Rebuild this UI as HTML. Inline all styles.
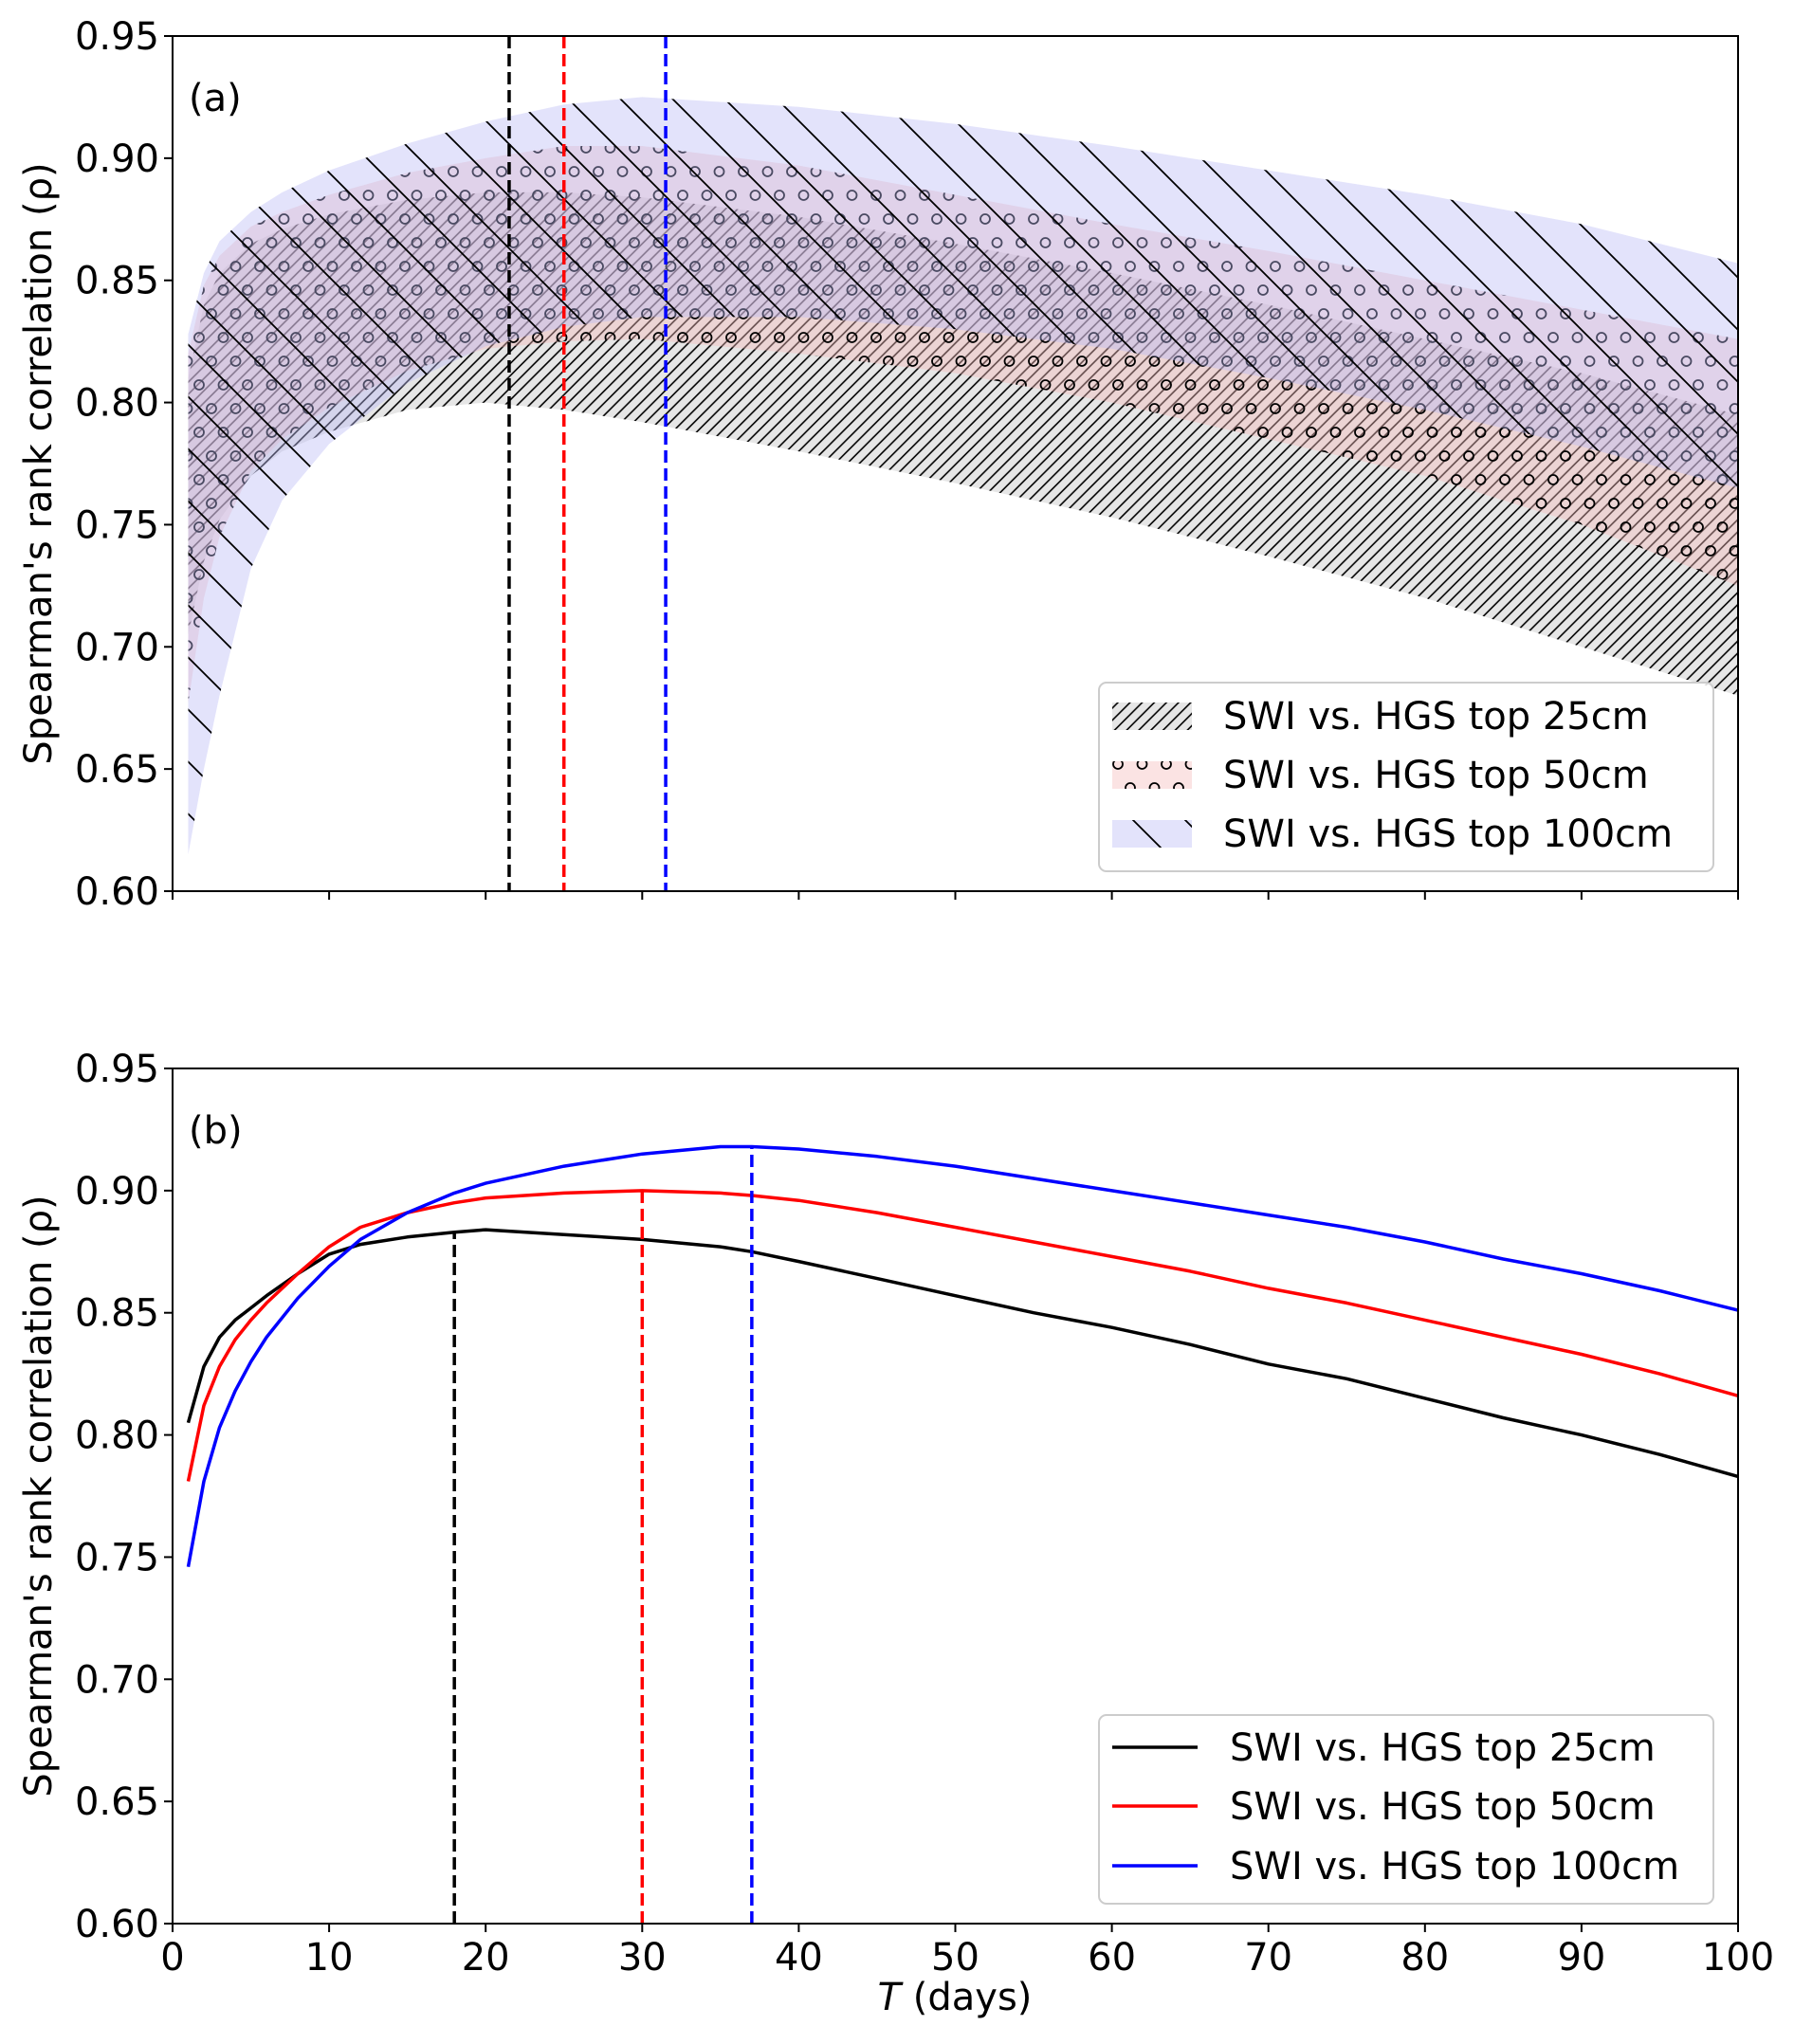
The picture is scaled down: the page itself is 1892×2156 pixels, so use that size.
<!DOCTYPE html>
<html><head><meta charset="utf-8">
<style>
html,body{margin:0;padding:0;background:#fff;}
svg{display:block;font-family:"DejaVu Sans","Liberation Sans",sans-serif;}
</style></head>
<body>
<svg id="chart" width="1892" height="2156" viewBox="0 0 1892 2156" xmlns="http://www.w3.org/2000/svg">
<defs>
  <pattern id="hatchSlash" patternUnits="userSpaceOnUse" width="12.8" height="12.8">
    <path d="M-3.2,3.2 L3.2,-3.2 M0,12.8 L12.8,0 M9.6,16 L16,9.6" stroke="#000" stroke-width="1.6"/>
  </pattern>
  <pattern id="hatchCircle" patternUnits="userSpaceOnUse" width="51" height="50">
    <circle cx="6" cy="6" r="5" fill="none" stroke="#000" stroke-width="1.8"/>
    <circle cx="31.5" cy="6" r="5" fill="none" stroke="#000" stroke-width="1.8"/>
    <circle cx="19" cy="31" r="5" fill="none" stroke="#000" stroke-width="1.8"/>
    <circle cx="44.5" cy="31" r="5" fill="none" stroke="#000" stroke-width="1.8"/>
  </pattern>
  <pattern id="hatchBack" patternUnits="userSpaceOnUse" width="55" height="55">
    <path d="M-5,-5 L60,60 M-5,50 L5,60 M50,-5 L60,5" stroke="#000" stroke-width="1.8"/>
  </pattern>
  <clipPath id="clipA"><rect x="182" y="38" width="1651" height="902"/></clipPath>
  <clipPath id="clipB"><rect x="182" y="1127" width="1651" height="902"/></clipPath>
</defs>
<g id="panelA"></g>
<g id="panelB"></g>
</svg>
<script>
// ---- data ----
const bandT = [1,2,3,5,7,10,15,20,25,30,40,50,60,70,80,90,100];
const band25Upper  = [0.81,0.84,0.853,0.865,0.871,0.877,0.883,0.886,0.886,0.884,0.876,0.865,0.853,0.84,0.826,0.812,0.795];
const band25Lower  = [0.705,0.735,0.752,0.77,0.78,0.788,0.797,0.80,0.797,0.792,0.78,0.767,0.753,0.737,0.72,0.70,0.68];
const band50Upper  = [0.82,0.848,0.86,0.872,0.878,0.885,0.894,0.90,0.905,0.905,0.897,0.885,0.873,0.862,0.85,0.838,0.826];
const band50Lower  = [0.677,0.72,0.745,0.772,0.785,0.798,0.813,0.822,0.825,0.826,0.82,0.812,0.80,0.785,0.77,0.75,0.725];
const band100Upper = [0.828,0.853,0.866,0.878,0.886,0.895,0.906,0.915,0.922,0.925,0.921,0.914,0.905,0.895,0.885,0.873,0.857];
const band100Lower = [0.615,0.65,0.68,0.732,0.76,0.783,0.808,0.823,0.831,0.835,0.835,0.83,0.822,0.81,0.797,0.782,0.765];
const optimalA = [21.5, 25, 31.5];

const lineT = [1,2,3,4,5,6,8,10,12,15,18,20,25,30,35,37,40,45,50,55,60,65,70,75,80,85,90,95,100];
const line25  = [0.805,0.828,0.840,0.847,0.852,0.857,0.866,0.874,0.878,0.881,0.883,0.884,0.882,0.880,0.877,0.875,0.871,0.864,0.857,0.850,0.844,0.837,0.829,0.823,0.815,0.807,0.800,0.792,0.783];
const line50  = [0.781,0.812,0.828,0.839,0.847,0.854,0.866,0.877,0.885,0.891,0.895,0.897,0.899,0.900,0.899,0.898,0.896,0.891,0.885,0.879,0.873,0.867,0.860,0.854,0.847,0.840,0.833,0.825,0.816];
const line100 = [0.746,0.781,0.803,0.818,0.830,0.840,0.856,0.869,0.880,0.891,0.899,0.903,0.910,0.915,0.918,0.918,0.917,0.914,0.910,0.905,0.900,0.895,0.890,0.885,0.879,0.872,0.866,0.859,0.851];
const optimalB = [18, 30, 37];

const xTicks = [0,10,20,30,40,50,60,70,80,90,100];
const yTicks = [0.60,0.65,0.70,0.75,0.80,0.85,0.90,0.95];
const legendLabels = ["SWI vs. HGS top 25cm","SWI vs. HGS top 50cm","SWI vs. HGS top 100cm"];

// ---- layout ----
const NS = "http://www.w3.org/2000/svg";
const X0 = 182, X1 = 1833;
function xs(t){ return X0 + (t-0)/(100-0)*(X1-X0); }
function mkY(top,bot){ return v => bot - (v-0.60)/(0.95-0.60)*(bot-top); }
function el(tag, attrs, parent){
  const e = document.createElementNS(NS, tag);
  for (const k in attrs) e.setAttribute(k, attrs[k]);
  parent.appendChild(e); return e;
}
function bandPath(T, up, lo, ys){
  let d = "";
  T.forEach((t,i)=>{ d += (i?"L":"M") + xs(t).toFixed(1) + "," + ys(up[i]).toFixed(1); });
  for (let i=T.length-1;i>=0;i--) d += "L" + xs(T[i]).toFixed(1) + "," + ys(lo[i]).toFixed(1);
  return d + "Z";
}
function linePath(T, v, ys){
  return T.map((t,i)=>(i?"L":"M")+xs(t).toFixed(1)+","+ys(v[i]).toFixed(1)).join("");
}
function interp(T, v, t){
  for (let i=0;i<T.length-1;i++) if (t>=T[i] && t<=T[i+1]) return v[i]+(v[i+1]-v[i])*(t-T[i])/(T[i+1]-T[i]);
  return v[v.length-1];
}
function axes(g, top, bot, showXLabels, panelLetter){
  const ys = mkY(top,bot);
  let e;
  e = el("rect",{x:X0,y:top,width:X1-X0,height:bot-top,fill:"none",stroke:"#000","stroke-width":2},g);
   
  xTicks.forEach(t=>{
    const tk = el("line",{x1:xs(t),x2:xs(t),y1:bot,y2:bot+9,stroke:"#000","stroke-width":2},g);
     
    if (showXLabels){
      const tx = el("text",{x:xs(t),y:bot+49,"font-size":40,"text-anchor":"middle",fill:"#000"},g);
      tx.textContent = String(t);
       
    }
  });
  yTicks.forEach(v=>{
    const tk = el("line",{x1:X0-9,x2:X0,y1:ys(v),y2:ys(v),stroke:"#000","stroke-width":2},g);
     
    const tx = el("text",{x:X0-14,y:ys(v)+14,"font-size":40,"text-anchor":"end",fill:"#000"},g);
    tx.textContent = v.toFixed(2);
     
  });
  const yl = el("text",{x:0,y:0,"font-size":40,"text-anchor":"middle",fill:"#000",transform:`translate(54,${(top+bot)/2}) rotate(-90)`},g);
  yl.textContent = "Spearman's rank correlation (ρ)";
   
  const pl = el("text",{x:199,y:top+79,"font-size":40,fill:"#000"},g);
  pl.textContent = panelLetter;
   
}
function legendBox(g, top){
  const r = el("rect",{x:1159,y:top,width:648,height:199,rx:8,fill:"#fff","fill-opacity":0.85,stroke:"#ccc","stroke-width":2},g);
   
}

// ---- panel A ----
(function(){
  const g = document.getElementById("panelA");
  const top=38, bot=940, ys=mkY(top,bot);
  const cg = el("g",{"clip-path":"url(#clipA)"},g);
  const bands = [
    [band25Upper,band25Lower,"#d6d6d6",0.6,"url(#hatchSlash)","band-25cm"],
    [band50Upper,band50Lower,"#f4b8b8",0.4,"url(#hatchCircle)","band-50cm"],
    [band100Upper,band100Lower,"#b8b8f4",0.4,"url(#hatchBack)","band-100cm"]
  ];
  bands.forEach(b=>{
    const d = bandPath(bandT,b[0],b[1],ys);
    const f = el("path",{d:d,fill:b[2],"fill-opacity":b[3]},cg);
     
    const h = el("path",{d:d,fill:b[4]},cg);
     
  });
  const cols = ["#000","#f00","#00f"];
  optimalA.forEach((t,i)=>{
    const l = el("line",{x1:xs(t),x2:xs(t),y1:top,y2:bot,stroke:cols[i],"stroke-width":3.5,"stroke-dasharray":"13,6"},g);
     
  });
  axes(g,top,bot,false,"(a)");
  legendBox(g,720);
  const rows=[755,817,879];
  const sw = [["#d6d6d6",0.6,"url(#hatchSlash)"],["#f4b8b8",0.4,"url(#hatchCircle)"],["#b8b8f4",0.4,"url(#hatchBack)"]];
  rows.forEach((y,i)=>{
    const a = el("rect",{x:1173,y:y-14,width:84,height:29,fill:sw[i][0],"fill-opacity":sw[i][1]},g);
     
    const b = el("rect",{x:1173,y:y-14,width:84,height:29,fill:sw[i][2]},g);
     
    const tx = el("text",{x:1290,y:y+14,"font-size":40,fill:"#000"},g);
    tx.textContent = legendLabels[i];
     
  });
})();

// ---- panel B ----
(function(){
  const g = document.getElementById("panelB");
  const top=1127, bot=2029, ys=mkY(top,bot);
  const cg = el("g",{"clip-path":"url(#clipB)"},g);
  const series = [[line25,"#000","line-25cm"],[line50,"#f00","line-50cm"],[line100,"#00f","line-100cm"]];
  series.forEach((s,i)=>{
    const p = el("path",{d:linePath(lineT,s[0],ys),fill:"none",stroke:s[1],"stroke-width":3.5,"stroke-linejoin":"round"},cg);
     
    const t = optimalB[i];
    const l = el("line",{x1:xs(t),x2:xs(t),y1:bot,y2:ys(interp(lineT,s[0],t)),stroke:s[1],"stroke-width":3.5,"stroke-dasharray":"13,6"},g);
     
  });
  axes(g,top,bot,true,"(b)");
  const xl = el("text",{x:1007,y:2120,"font-size":40,"text-anchor":"middle",fill:"#000"},g);
  xl.innerHTML = '<tspan font-style="italic">T</tspan> (days)';
   
  legendBox(g,1809);
  const rows=[1843,1905,1968];
  const cols=["#000","#f00","#00f"];
  rows.forEach((y,i)=>{
    const l = el("line",{x1:1173,x2:1263,y1:y,y2:y,stroke:cols[i],"stroke-width":3.5},g);
     
    const tx = el("text",{x:1297,y:y+14,"font-size":40,fill:"#000"},g);
    tx.textContent = legendLabels[i];
     
  });
})();
</script>
</body></html>
